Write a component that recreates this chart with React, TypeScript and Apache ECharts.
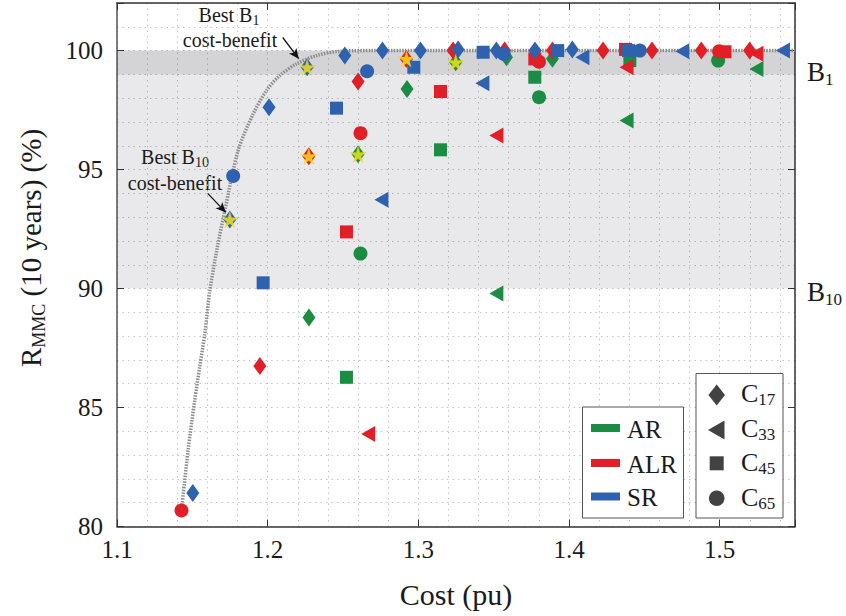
import React, { useEffect, useRef } from 'react';
import * as echarts from 'echarts';

const FONT = 'Liberation Serif';
const GREEN = '#1a8c44';
const RED = '#e21f26';
const BLUE = '#2e62ae';
const MARK = '#424242';

// Axis setup
const X_MIN = 1.1, X_MAX = 1.55, X_MAJOR = 0.1, X_MINOR = 0.02;
const Y_MIN = 80, Y_MAX = 102, Y_MAJOR = 5, Y_MINOR = 1;

// Bands (B1: 99-100, B10: 90-99)
const BAND_B1 = [99, 100];
const BAND_B10 = [90, 99];

// AR (green)
const AR_C17 = [[1.2274, 88.78], [1.26, 95.64], [1.2925, 98.39], [1.3248, 99.51], [1.3585, 99.72], [1.389, 99.66]];
const AR_C33 = [[1.3518, 89.79], [1.4382, 97.06], [1.5244, 99.23]];
const AR_C45 = [[1.2523, 86.27], [1.3147, 95.83], [1.3773, 98.88], [1.4404, 99.58]];
const AR_C65 = [[1.2616, 91.47], [1.3801, 98.04], [1.499, 99.58]];

// ALR (red)
const ALR_C17 = [[1.1948, 86.74], [1.2273, 95.56], [1.26, 98.7], [1.2921, 99.65], [1.3231, 100], [1.3573, 100], [1.389, 100], [1.4226, 100], [1.4551, 100], [1.4878, 100], [1.5199, 100]];
const ALR_C33 = [[1.2667, 83.89], [1.3518, 96.43], [1.4382, 99.3], [1.5244, 99.87]];
const ALR_C45 = [[1.2523, 92.38], [1.3147, 98.28], [1.3773, 99.65], [1.4375, 100.05], [1.5035, 99.95]];
const ALR_C65 = [[1.1428, 80.67], [1.2616, 96.53], [1.3801, 99.53], [1.4996, 99.97]];

// SR (blue)
const SR_C17 = [[1.1503, 81.41], [1.1749, 92.9], [1.2009, 97.62], [1.2262, 99.3], [1.2512, 99.79], [1.2762, 100], [1.3014, 100], [1.3264, 100.05], [1.3518, 100], [1.3774, 100], [1.4022, 100.05]];
const SR_C33 = [[1.2755, 93.73], [1.3425, 98.63], [1.4089, 99.72], [1.4752, 99.97], [1.542, 100]];
const SR_C45 = [[1.197, 90.24], [1.2457, 97.58], [1.297, 99.3], [1.343, 99.93], [1.3925, 100], [1.4395, 100]];
const SR_C65 = [[1.1771, 94.73], [1.266, 99.13], [1.3567, 99.86], [1.447, 100]];

// Best cost-benefit highlights (yellow stars)
const STARS = [[1.1749, 92.9], [1.2262, 99.3], [1.2273, 95.56], [1.26, 95.64], [1.2921, 99.65], [1.3248, 99.51]];

// Cost-benefit frontier (dotted curve)
const FRONTIER = [[1.1428, 80.67], [1.1472, 83.21], [1.1516, 85.31], [1.1549, 86.71], [1.1583, 88.11], [1.1616, 89.9], [1.1665, 91.7], [1.1716, 93.29], [1.1804, 95.8], [1.1901, 97.3], [1.1992, 98.32], [1.208, 98.95], [1.2191, 99.44], [1.2324, 99.79], [1.2478, 99.97], [1.27, 100], [1.55, 100]];

// Annotation arrows [from, to]
const ARROW_B1 = [[1.21, 100.55], [1.2206, 99.66]];
const ARROW_B10 = [[1.1602, 94.0], [1.1722, 93.2]];

const STAR_PATH = 'path://M50,0 L61,35 L98,35 L68,57 L79,91 L50,70 L21,91 L32,57 L2,35 L39,35 Z';

const sz: Record<string, any> = {
  diamond: [13, 18],
  triangle: [16, 14],
  rect: [13, 13],
  circle: [14, 14],
};

function sc(name: string, data: number[][], color: string, symbol: string, z: number) {
  return {
    name,
    type: 'scatter',
    data,
    symbol,
    symbolSize: sz[symbol],
    symbolRotate: symbol === 'triangle' ? 90 : 0,
    itemStyle: { color, opacity: 1 },
    z,
    silent: true,
  };
}

const richT = (size: number, sub: number, fill = '#1a1a1a') => ({
  m: { fontFamily: FONT, fontSize: size, lineHeight: size + 4, fill },
  s: { fontFamily: FONT, fontSize: sub, lineHeight: Math.round(sub * 0.7), verticalAlign: 'bottom', fill },
});

function labelFmt(major: number) {
  return (v: number) => {
    const r = v / major;
    if (Math.abs(r - Math.round(r)) < 1e-6) {
      return major < 1 ? v.toFixed(1) : String(Math.round(v));
    }
    return '';
  };
}

export default function App() {
  const ref = useRef<HTMLDivElement>(null);
  useEffect(() => {
    if (!ref.current) return;
    const chart = echarts.init(ref.current, null, { renderer: 'svg' });
    const axisLine = { show: true, lineStyle: { color: '#333', width: 1.5 } };
    const grid = { left: 117, right: 51, top: 3, bottom: 89.5, containLabel: false, outerBoundsMode: 'none' };
    const dotted = { show: true, lineStyle: { color: '#c4c4c4', width: 1, type: [1.5, 4] } };
    const option: any = {
      animation: false,
      backgroundColor: '#fff',
      grid,
      xAxis: [
        {
          type: 'value', position: 'bottom', min: X_MIN, max: X_MAX, interval: X_MINOR,
          axisLine, axisTick: { show: false }, splitLine: dotted,
          axisLabel: { formatter: labelFmt(X_MAJOR), fontFamily: FONT, fontSize: 25, color: '#1a1a1a', margin: 10 },
          name: 'Cost (pu)', nameLocation: 'middle', nameGap: 53,
          nameTextStyle: { fontFamily: FONT, fontSize: 30, color: '#1a1a1a' },
        },
        {
          type: 'value', position: 'top', min: X_MIN, max: X_MAX, interval: X_MAJOR,
          axisLine, axisTick: { show: true, inside: true, length: 7, lineStyle: { color: '#333' } },
          axisLabel: { show: false }, splitLine: { show: false },
        },
        {
          type: 'value', position: 'bottom', min: X_MIN, max: X_MAX, interval: X_MAJOR,
          axisLine: { show: false }, axisTick: { show: true, inside: true, length: 7, lineStyle: { color: '#333' } },
          axisLabel: { show: false }, splitLine: { show: false },
        },
      ],
      yAxis: [
        {
          type: 'value', position: 'left', min: Y_MIN, max: Y_MAX, interval: Y_MINOR,
          axisLine: { show: true, lineStyle: { color: '#555', width: 1.5 } }, axisTick: { show: false }, splitLine: dotted,
          axisLabel: { formatter: labelFmt(Y_MAJOR), fontFamily: FONT, fontSize: 25, color: '#1a1a1a', margin: 14 },
        },
        {
          type: 'value', position: 'right', min: Y_MIN, max: Y_MAX, interval: Y_MAJOR,
          axisLine, axisTick: { show: true, inside: true, length: 7, lineStyle: { color: '#333' } },
          axisLabel: { show: false }, splitLine: { show: false },
        },
        {
          type: 'value', position: 'left', min: Y_MIN, max: Y_MAX, interval: Y_MAJOR,
          axisLine: { show: false }, axisTick: { show: true, inside: true, length: 7, lineStyle: { color: '#333' } },
          axisLabel: { show: false }, splitLine: { show: false },
        },
      ],
      series: [
        {
          name: 'bands', type: 'scatter', data: [], z: 1, silent: true,
          markArea: {
            silent: true,
            data: [
              [{ yAxis: BAND_B1[0], itemStyle: { color: 'rgba(40,40,50,0.2)' } }, { yAxis: BAND_B1[1] }],
              [{ yAxis: BAND_B10[0], itemStyle: { color: 'rgba(40,40,70,0.1)' } }, { yAxis: BAND_B10[1] }],
            ],
          },
        },
        {
          name: 'frontier', type: 'line', data: FRONTIER, smooth: 0.3, showSymbol: false, symbol: 'none', z: 2, silent: true,
          lineStyle: { color: '#8c8c8c', width: 3.5, type: [1.5, 1.3] },
          markLine: {
            silent: true, symbol: ['none', 'arrow'], symbolSize: [7, 10],
            lineStyle: { color: '#111', width: 1.3, type: 'solid' }, label: { show: false },
            data: [
              [{ coord: ARROW_B1[0] }, { coord: ARROW_B1[1] }],
              [{ coord: ARROW_B10[0] }, { coord: ARROW_B10[1] }],
            ],
          },
        },
        sc('AR C17', AR_C17, GREEN, 'diamond', 3),
        sc('AR C33', AR_C33, GREEN, 'triangle', 3),
        sc('AR C45', AR_C45, GREEN, 'rect', 3),
        sc('AR C65', AR_C65, GREEN, 'circle', 3),
        sc('ALR C17', ALR_C17, RED, 'diamond', 4),
        sc('ALR C33', ALR_C33, RED, 'triangle', 4),
        sc('ALR C45', ALR_C45, RED, 'rect', 4),
        sc('ALR C65', ALR_C65, RED, 'circle', 4),
        sc('SR C17', SR_C17, BLUE, 'diamond', 5),
        sc('SR C33', SR_C33, BLUE, 'triangle', 5),
        sc('SR C45', SR_C45, BLUE, 'rect', 5),
        sc('SR C65', SR_C65, BLUE, 'circle', 5),
        {
          name: 'best', type: 'scatter', data: STARS, symbol: STAR_PATH, symbolSize: 16, z: 6, silent: true,
          itemStyle: { color: '#fbe91a', borderColor: '#e8c400', borderWidth: 0.4 },
        },
      ],
      graphic: [
        // Y axis title
        {
          type: 'text', x: 31, y: 248, rotation: Math.PI / 2, silent: true,
          style: { text: '{m|R}{s|MMC}{m| (10 years) (%)}', align: 'center', verticalAlign: 'middle', rich: richT(29, 18) },
        },
        // Band labels
        {
          type: 'text', x: 807, y: 72, silent: true,
          style: { text: '{m|B}{s|1}', align: 'left', verticalAlign: 'middle', rich: richT(27, 17) },
        },
        {
          type: 'text', x: 807, y: 292, silent: true,
          style: { text: '{m|B}{s|10}', align: 'left', verticalAlign: 'middle', rich: richT(27, 17) },
        },
        // Annotations
        {
          type: 'text', x: 229, y: 15, silent: true,
          style: { text: '{m|Best B}{s|1}', align: 'center', verticalAlign: 'middle', rich: richT(20, 14) },
        },
        {
          type: 'text', x: 230, y: 40, silent: true,
          style: { text: 'cost-benefit', align: 'center', verticalAlign: 'middle', fontFamily: FONT, fontSize: 20, fill: '#1a1a1a' },
        },
        {
          type: 'text', x: 175, y: 157, silent: true,
          style: { text: '{m|Best B}{s|10}', align: 'center', verticalAlign: 'middle', rich: richT(20, 14) },
        },
        {
          type: 'text', x: 175, y: 183, silent: true,
          style: { text: 'cost-benefit', align: 'center', verticalAlign: 'middle', fontFamily: FONT, fontSize: 20, fill: '#1a1a1a' },
        },
        // Legend 1: colours
        {
          type: 'rect', shape: { x: 582.5, y: 407, width: 101, height: 111 }, silent: true,
          style: { fill: '#fff', stroke: '#555', lineWidth: 1 }, z: 100,
        },
        { type: 'rect', shape: { x: 591, y: 424, width: 29, height: 8 }, style: { fill: GREEN }, z: 101, silent: true },
        { type: 'rect', shape: { x: 591, y: 459, width: 29, height: 8 }, style: { fill: RED }, z: 101, silent: true },
        { type: 'rect', shape: { x: 591, y: 492.5, width: 29, height: 8 }, style: { fill: BLUE }, z: 101, silent: true },
        {
          type: 'text', x: 627, y: 429, z: 101, silent: true,
          style: { text: 'AR', align: 'left', verticalAlign: 'middle', fontFamily: FONT, fontSize: 25, fill: '#1a1a1a' },
        },
        {
          type: 'text', x: 627, y: 464, z: 101, silent: true,
          style: { text: 'ALR', align: 'left', verticalAlign: 'middle', fontFamily: FONT, fontSize: 25, fill: '#1a1a1a' },
        },
        {
          type: 'text', x: 627, y: 497, z: 101, silent: true,
          style: { text: 'SR', align: 'left', verticalAlign: 'middle', fontFamily: FONT, fontSize: 25, fill: '#1a1a1a' },
        },
        // Legend 2: shapes
        {
          type: 'rect', shape: { x: 696, y: 373.5, width: 87, height: 144.5 }, silent: true,
          style: { fill: '#fff', stroke: '#555', lineWidth: 1 }, z: 100,
        },
        {
          type: 'polygon', shape: { points: [[716.7, 384.5], [725, 395], [716.7, 405.5], [708.4, 395]] },
          style: { fill: MARK }, z: 101, silent: true,
        },
        {
          type: 'polygon', shape: { points: [[708, 430], [724.5, 420.5], [724.5, 439.5]] },
          style: { fill: MARK }, z: 101, silent: true,
        },
        { type: 'rect', shape: { x: 709.7, y: 456.3, width: 14, height: 14 }, style: { fill: MARK }, z: 101, silent: true },
        { type: 'circle', shape: { cx: 716.7, cy: 498.3, r: 7.8 }, style: { fill: MARK }, z: 101, silent: true },
        ...[['17', 393], ['33', 428], ['45', 462], ['65', 497]].map(([n, y]) => ({
          type: 'text', x: 741, y: y as number, z: 101, silent: true,
          style: { text: `{m|C}{s|${n}}`, align: 'left', verticalAlign: 'middle', rich: richT(26, 17) },
        })),
      ],
    };
    chart.setOption(option);
    return () => chart.dispose();
  }, []);
  return <div ref={ref} style={{ position: 'fixed', left: 0, top: 0, width: 846, height: 616 }} />;
}
